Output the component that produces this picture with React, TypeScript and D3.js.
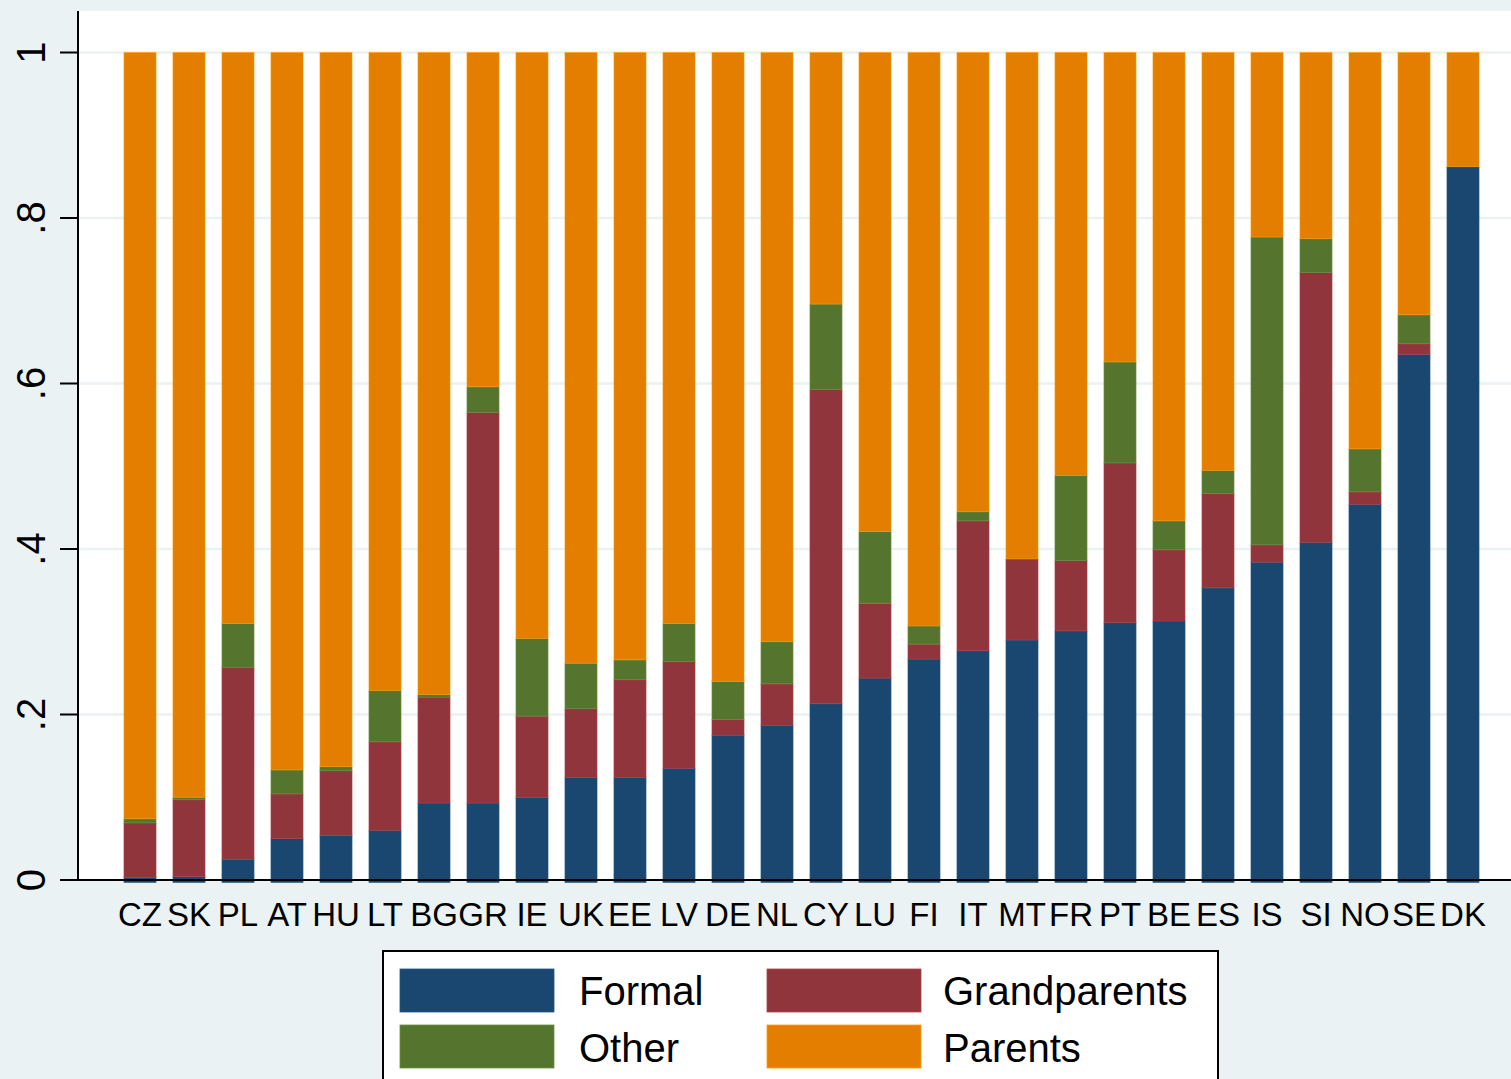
import React from "react";
import * as d3 from "d3";

const countries = ["CZ","SK","PL","AT","HU","LT","BG","GR","IE","UK","EE","LV","DE","NL","CY","LU","FI","IT","MT","FR","PT","BE","ES","IS","SI","NO","SE","DK"];
const formal = [0.003,0.004,0.025,0.050,0.054,0.060,0.093,0.093,0.100,0.124,0.124,0.135,0.175,0.187,0.213,0.244,0.267,0.277,0.290,0.301,0.311,0.313,0.353,0.384,0.408,0.454,0.635,0.862];
const grandparents = [0.066,0.093,0.232,0.054,0.078,0.107,0.128,0.472,0.098,0.083,0.118,0.129,0.019,0.050,0.380,0.090,0.018,0.157,0.098,0.085,0.193,0.086,0.114,0.021,0.326,0.015,0.013,0.000];
const other = [0.005,0.003,0.053,0.029,0.005,0.062,0.003,0.031,0.094,0.055,0.024,0.046,0.046,0.051,0.103,0.087,0.022,0.011,0.000,0.103,0.122,0.035,0.028,0.372,0.041,0.052,0.035,0.000];
const parents = [0.926,0.900,0.690,0.867,0.863,0.771,0.776,0.404,0.708,0.738,0.734,0.690,0.760,0.712,0.304,0.579,0.693,0.555,0.612,0.511,0.374,0.566,0.505,0.223,0.225,0.479,0.317,0.138];
const seriesNames = ["Formal","Grandparents","Other","Parents"];
const seriesColors = ["#1A476F","#90353B","#55752F","#E37E00"];
const yTicks = [0,0.2,0.4,0.6,0.8,1];
const yTickLabels = ["0",".2",".4",".6",".8","1"];

const W = 1511, H = 1079;
const BG = "#EAF2F3";
const FONT = "'Liberation Sans', Arial, Helvetica, sans-serif";

export default function App() {
  const plotLeft = 78, plotTop = 11, plotRight = 1511;
  const y = d3.scaleLinear().domain([0, 1]).range([880, 52.5]);
  const x = d3.scalePoint<string>().domain(countries).range([140, 1463]);
  const bw = x.step() * 0.655;

  const rows = countries.map((c, i) => ({
    c, Formal: formal[i], Grandparents: grandparents[i], Other: other[i], Parents: parents[i],
  }));
  const stack = d3.stack<any>().keys(["Formal", "Grandparents", "Other", "Parents"]);
  const layers = stack(rows);

  const legendItems = [
    { name: "Formal", color: seriesColors[0], col: 0, row: 0 },
    { name: "Grandparents", color: seriesColors[1], col: 1, row: 0 },
    { name: "Other", color: seriesColors[2], col: 0, row: 1 },
    { name: "Parents", color: seriesColors[3], col: 1, row: 1 },
  ];

  return (
    <svg width={W} height={H} style={{ position: "absolute", left: 0, top: 0, display: "block" }} fontFamily={FONT}>
      <rect x={0} y={0} width={W} height={H} fill={BG} />
      <rect x={plotLeft} y={plotTop} width={plotRight - plotLeft} height={880 - plotTop} fill="#FFFFFF" />
      {yTicks.filter(t => t > 0).map(t => (
        <line key={"g" + t} x1={plotLeft} x2={plotRight} y1={y(t)} y2={y(t)} stroke={BG} strokeWidth={2.5} />
      ))}
      {layers.map((layer, li) => (
        <g key={layer.key} fill={seriesColors[li]}>
          {layer.map((d, i) => {
            const h = y(d[0]) - y(d[1]);
            if (h <= 0.01) return null;
            return (
              <rect key={i} x={(x(countries[i]) as number) - bw / 2} y={y(d[1])} width={bw} height={h + (li === 0 ? 2.5 : 0)}
                stroke={d3.color(seriesColors[li])!.brighter(0.6).formatHex()} strokeWidth={0.8} strokeOpacity={0.7} />
            );
          })}
        </g>
      ))}
      {/* axes */}
      <line x1={plotLeft} x2={plotLeft} y1={plotTop} y2={880} stroke="#000" strokeWidth={2} />
      <line x1={60} x2={plotRight} y1={880} y2={880} stroke="#000" strokeWidth={2} />
      {yTicks.map((t, i) => (
        <g key={"t" + t}>
          <line x1={60} x2={plotLeft} y1={y(t)} y2={y(t)} stroke="#000" strokeWidth={2} />
          <text transform={`translate(45,${y(t)}) rotate(-90)`} textAnchor="middle" fontSize={40} fill="#000">{yTickLabels[i]}</text>
        </g>
      ))}
      {countries.map(c => (
        <text key={c} x={x(c)} y={926} textAnchor="middle" fontSize={33} fill="#000">{c}</text>
      ))}
      {/* legend */}
      <rect x={383} y={951} width={835} height={150} fill="#FFFFFF" stroke="#000" strokeWidth={2} />
      {legendItems.map(it => {
        const sx = it.col === 0 ? 400 : 767;
        const sy = it.row === 0 ? 969 : 1025;
        const tx = it.col === 0 ? 579 : 943;
        const ty = it.row === 0 ? 1005 : 1062;
        return (
          <g key={it.name}>
            <rect x={sx} y={sy} width={154} height={43} fill={it.color}
              stroke={d3.color(it.color)!.brighter(0.6).formatHex()} strokeWidth={0.8} />
            <text x={tx} y={ty} fontSize={40} fill="#000">{it.name}</text>
          </g>
        );
      })}
    </svg>
  );
}
